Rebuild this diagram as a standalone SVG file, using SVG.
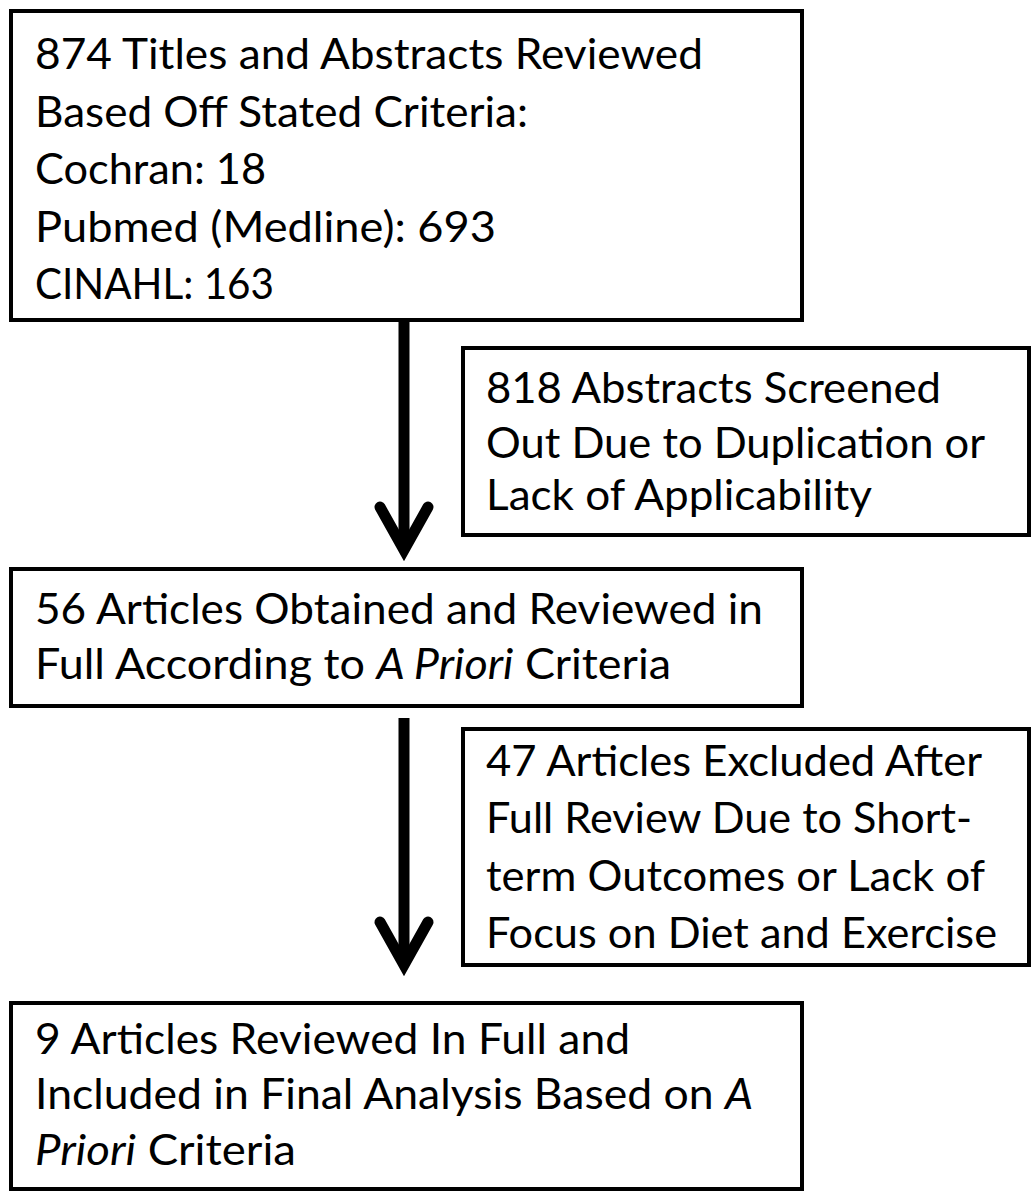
<svg xmlns="http://www.w3.org/2000/svg" width="1033" height="1193" viewBox="0 0 1033 1193">
<style>
.box{fill:#fff;stroke:#000;stroke-width:4}
.t{font-family:Lato,"Open Sans","Liberation Sans",sans-serif;font-size:43px;fill:#000}
.i{font-style:italic}
.shaft{stroke:#000;stroke-width:11;fill:none}
.head{stroke:#000;stroke-width:11;fill:none;stroke-linecap:round;stroke-linejoin:miter}
</style>
<rect width="1033" height="1193" fill="#fff"/>
<g id="connectors">
<line class="shaft" x1="404" y1="322" x2="404" y2="550"/>
<polyline class="head" points="380,507 404,550 428,507"/>
<line class="shaft" x1="404" y1="718" x2="404" y2="965"/>
<polyline class="head" points="380,922 404,965 428,922"/>
</g>
<g id="n1">
<rect class="box" x="11" y="11" width="791" height="309"/>
<text class="t" x="35" y="69" textLength="668" lengthAdjust="spacingAndGlyphs">874 Titles and Abstracts Reviewed</text>
<text class="t" x="35" y="127" textLength="493" lengthAdjust="spacingAndGlyphs">Based Off Stated Criteria:</text>
<text class="t" x="35" y="184" textLength="231" lengthAdjust="spacingAndGlyphs">Cochran: 18</text>
<text class="t" x="35" y="242" textLength="461" lengthAdjust="spacingAndGlyphs">Pubmed (Medline): 693</text>
<text class="t" x="35" y="299" textLength="239" lengthAdjust="spacingAndGlyphs">CINAHL: 163</text>
</g>
<g id="n2">
<rect class="box" x="463" y="348" width="566" height="187"/>
<text class="t" x="486" y="403" textLength="455" lengthAdjust="spacingAndGlyphs">818 Abstracts Screened</text>
<text class="t" x="486" y="458" textLength="499" lengthAdjust="spacingAndGlyphs">Out Due to Duplication or</text>
<text class="t" x="486" y="510" textLength="386" lengthAdjust="spacingAndGlyphs">Lack of Applicability</text>
</g>
<g id="n3">
<rect class="box" x="11" y="569" width="791" height="137"/>
<text class="t" x="35" y="624" textLength="728" lengthAdjust="spacingAndGlyphs">56 Articles Obtained and Reviewed in</text>
<text class="t" x="35" y="679" textLength="636" lengthAdjust="spacingAndGlyphs">Full According to <tspan class="i">A Priori</tspan> Criteria</text>
</g>
<g id="n4">
<rect class="box" x="463" y="729" width="566" height="236"/>
<text class="t" x="486" y="776" textLength="496" lengthAdjust="spacingAndGlyphs">47 Articles Excluded After</text>
<text class="t" x="486" y="833" textLength="486" lengthAdjust="spacingAndGlyphs">Full Review Due to Short-</text>
<text class="t" x="486" y="891" textLength="499" lengthAdjust="spacingAndGlyphs">term Outcomes or Lack of</text>
<text class="t" x="486" y="948" textLength="511" lengthAdjust="spacingAndGlyphs">Focus on Diet and Exercise</text>
</g>
<g id="n5">
<rect class="box" x="11" y="1003" width="791" height="186"/>
<text class="t" x="35" y="1054" textLength="595" lengthAdjust="spacingAndGlyphs">9 Articles Reviewed In Full and</text>
<text class="t" x="35" y="1109" textLength="718" lengthAdjust="spacingAndGlyphs">Included in Final Analysis Based on <tspan class="i">A</tspan></text>
<text class="t" x="35" y="1165" textLength="261" lengthAdjust="spacingAndGlyphs"><tspan class="i">Priori</tspan> Criteria</text>
</g>
</svg>
